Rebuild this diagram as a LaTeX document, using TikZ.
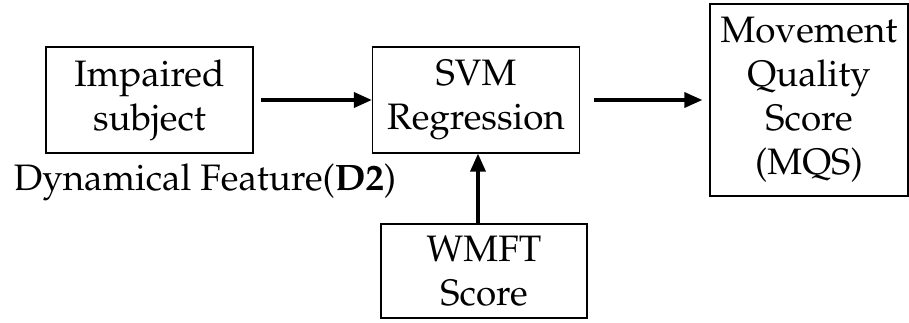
\documentclass[tikz,border=0pt]{standalone}
\usepackage[T1]{fontenc}
\usepackage{mathpazo}
\usetikzlibrary{arrows.meta, positioning}

\begin{document}
\begin{tikzpicture}[x=0.5pt,y=-0.5pt,
  blk/.style={rectangle,draw,line width=0.6pt,align=center,inner sep=0pt,font=\fontsize{18.4}{22}\selectfont},
  arr/.style={-{Triangle[length=9pt,width=7.5pt]},line width=1.75pt}
]
  \useasboundingbox (0,0) rectangle (909,322);
  \node[blk,minimum width=103.5pt,minimum height=53pt](subj) at (149.5,100) {Impaired\\subject};
  \node[blk,minimum width=103.5pt,minimum height=53pt](svm) at (476,100) {SVM\\Regression};
  \node[blk,minimum width=99pt,minimum height=96pt](mqs) at (809,100) {Movement\\Quality\\Score\\(MQS)};
  \node[blk,minimum width=103pt,minimum height=47pt](wmft) at (484,271) {WMFT\\Score};
  \node[font=\fontsize{18.4}{22}\selectfont,anchor=base](feat) at (205,190) {Dynamical Feature(\textbf{D2})};

  \draw[arr] ([xshift=3.5pt]subj.east) -- (svm.west);
  \draw[arr] ([xshift=7pt]svm.east) -- ([xshift=-3.5pt]mqs.west);
  \draw[arr] (wmft.north -| {(478,0)}) -- (svm.south -| {(478,0)});
\end{tikzpicture}
\end{document}
